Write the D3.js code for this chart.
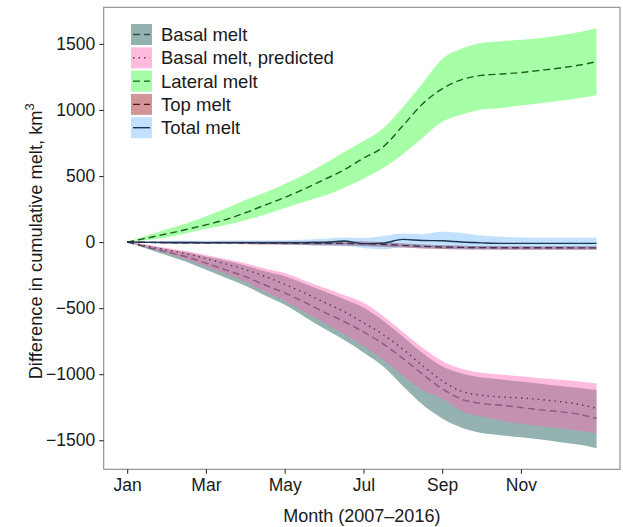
<!DOCTYPE html>
<html>
<head>
<meta charset="utf-8">
<script src="https://cdn.jsdelivr.net/npm/d3@7"></script>
<style>
  body { margin: 0; background: #fff; }
  text { font-family: "Liberation Sans", Arial, sans-serif; fill: #1a1a1a; }
</style>
</head>
<body>
<div id="chart"></div>
<script>
"use strict";

// month index (1 = Jan), half-month steps, last point at end of Dec
const months = [1, 1.5, 2, 2.5, 3, 3.5, 4, 4.5, 5, 5.5, 6, 6.5, 7, 7.5, 8, 8.5, 9, 9.5, 10, 10.5, 11, 11.5, 12, 12.5, 12.92];

const tickMonths = [1, 3, 5, 7, 9, 11];
const tickLabels = ["Jan", "Mar", "May", "Jul", "Sep", "Nov"];
const yTicks = [-1500, -1000, -500, 0, 500, 1000, 1500];

const legendLabels = ["Basal melt", "Basal melt, predicted", "Lateral melt", "Top melt", "Total melt"];

const basalMean = [0, -38, -75, -111, -160, -210, -262, -325, -385, -455, -530, -600, -680, -770, -880, -1000, -1110, -1190, -1222, -1235, -1252, -1270, -1284, -1305, -1335];
const basalHigh = [0, -24, -52, -78, -110, -142, -178, -220, -258, -315, -372, -430, -495, -595, -715, -840, -940, -995, -1025, -1040, -1055, -1072, -1090, -1105, -1120];
const basalLow = [0, -50, -100, -149, -210, -270, -330, -405, -475, -565, -655, -740, -835, -940, -1090, -1230, -1335, -1405, -1445, -1462, -1478, -1495, -1515, -1535, -1561];

const predMean = [0, -30, -60, -88, -125, -165, -208, -260, -320, -385, -455, -525, -610, -700, -810, -935, -1050, -1130, -1160, -1172, -1180, -1192, -1208, -1230, -1258];
const predHigh = [0, -20, -45, -68, -98, -128, -160, -200, -235, -290, -345, -400, -460, -560, -680, -800, -900, -960, -990, -1004, -1015, -1030, -1042, -1055, -1070];
const predLow = [0, -40, -85, -130, -185, -240, -300, -375, -445, -530, -610, -695, -785, -890, -1010, -1120, -1185, -1280, -1320, -1350, -1375, -1395, -1410, -1428, -1447];

const lateralMean = [0, 30, 62, 95, 130, 170, 222, 280, 337, 402, 472, 545, 635, 720, 880, 1045, 1160, 1230, 1262, 1272, 1283, 1300, 1318, 1340, 1366];
const lateralHigh = [0, 50, 95, 141, 195, 252, 318, 375, 440, 510, 590, 680, 765, 860, 1020, 1200, 1385, 1465, 1507, 1520, 1532, 1545, 1566, 1590, 1618];
const lateralLow = [0, 15, 35, 66, 100, 130, 165, 208, 258, 305, 350, 410, 480, 560, 665, 790, 910, 965, 1003, 1015, 1033, 1050, 1069, 1090, 1114];

const topMean = [0, -2, -4, -5, -6, -6, -7, -8, -8, -9, -9, -10, -12, -18, -25, -32, -37, -40, -42, -43, -43, -43, -43, -44, -44];
const topHigh = [0, 2, 3, 3, 3, 4, 4, 4, 5, 5, 6, 6, 5, 0, -10, -18, -24, -28, -30, -31, -31, -31, -31, -32, -32];
const topLow = [0, -6, -10, -12, -14, -15, -17, -19, -20, -22, -24, -26, -30, -36, -42, -48, -52, -55, -57, -58, -58, -58, -58, -59, -59];

const totalMean = [0, -2, -3, -3, -4, -4, -4, -5, -5, -4, -3, 8, -12, -8, 20, 12, 10, 0, -6, -10, -10, -10, -10, -10, -10];
const totalHigh = [0, 5, 8, 10, 10, 12, 12, 12, 14, 18, 25, 35, 30, 45, 65, 60, 78, 68, 50, 40, 35, 33, 33, 33, 33];
const totalLow = [0, -8, -10, -12, -12, -14, -14, -15, -18, -22, -28, -30, -45, -55, -40, -45, -50, -55, -55, -55, -55, -55, -55, -55, -55];

const width = 623;
const height = 527;
const margin = {top: 7.3, right: 3, bottom: 57.7, left: 103.7};

const series = [
  {mean: basalMean, low: basalLow, high: basalHigh, fill: "#29655f", fillOpacity: 0.5, stroke: "#2f4f4f", dash: "7,4"},
  {mean: predMean, low: predLow, high: predHigh, fill: "#ff69b4", fillOpacity: 0.45, stroke: "#5c2d52", dash: "1.4,4.2"},
  {mean: lateralMean, low: lateralLow, high: lateralHigh, fill: "#00ff00", fillOpacity: 0.35, stroke: "#1e5e1e", dash: "7,4"},
  {mean: topMean, low: topLow, high: topHigh, fill: "#a52a2a", fillOpacity: 0.5, stroke: "#5a1010", dash: "7,4"},
  {mean: totalMean, low: totalLow, high: totalHigh, fill: "#1e90ff", fillOpacity: 0.27, stroke: "#1c3550", dash: null}
];

function expand(ext, frac = 0.05) {
  let pad = (ext[1] - ext[0]) * frac;
  return [ext[0] - pad, ext[1] + pad];
}

const svg = d3.select("#chart")
  .append("svg")
  .attr("width", width)
  .attr("height", height);

const innerW = width - margin.left - margin.right;
const innerH = height - margin.top - margin.bottom;

const allVals = [].concat(...series.map(s => s.low.concat(s.high)));

const xScale = d3.scaleLinear()
  .domain(expand(d3.extent(months)))
  .range([margin.left, margin.left + innerW]);

const yScale = d3.scaleLinear()
  .domain(expand(d3.extent(allVals)))
  .range([margin.top + innerH, margin.top]);

const plot = svg.append("g");

series.forEach(s => {
  let rows = months.map((m, i) => ({x: m, y: s.mean[i], lo: s.low[i], hi: s.high[i]}));

  plot.append("path")
    .datum(rows)
    .attr("fill", s.fill)
    .attr("fill-opacity", s.fillOpacity)
    .attr("d", d3.area()
      .curve(d3.curveMonotoneX)
      .x(d => xScale(d.x))
      .y0(d => yScale(d.lo))
      .y1(d => yScale(d.hi)));

  plot.append("path")
    .datum(rows)
    .attr("fill", "none")
    .attr("stroke", s.stroke)
    .attr("stroke-width", 1.4)
    .attr("stroke-dasharray", s.dash)
    .attr("d", d3.line()
      .curve(d3.curveMonotoneX)
      .x(d => xScale(d.x))
      .y(d => yScale(d.y)));
});

// panel border
svg.append("rect")
  .attr("x", margin.left)
  .attr("y", margin.top)
  .attr("width", innerW)
  .attr("height", innerH)
  .attr("fill", "none")
  .attr("stroke", "#8a8a8a")
  .attr("stroke-width", 1.1);

// axes
const xAxis = svg.append("g")
  .attr("transform", "translate(0," + (margin.top + innerH) + ")")
  .call(d3.axisBottom(xScale)
    .tickValues(tickMonths)
    .tickFormat((d, i) => tickLabels[i])
    .tickSize(4.5)
    .tickPadding(5));

const yAxis = svg.append("g")
  .attr("transform", "translate(" + margin.left + ",0)")
  .call(d3.axisLeft(yScale)
    .tickValues(yTicks)
    .tickFormat(d3.format("d"))
    .tickSize(4.5)
    .tickPadding(4));

[xAxis, yAxis].forEach(ax => {
  ax.select(".domain").remove();
  ax.selectAll(".tick line").attr("stroke", "#333").attr("stroke-width", 1.1);
  ax.selectAll(".tick text")
    .attr("fill", "#1a1a1a")
    .style("font-size", "17.5px")
    .style("font-family", "'Liberation Sans', Arial, sans-serif");
});

// axis titles
svg.append("text")
  .attr("x", margin.left + innerW / 2)
  .attr("y", 522)
  .attr("text-anchor", "middle")
  .style("font-size", "18px")
  .text("Month (2007\u20132016)");

const yTitle = svg.append("text")
  .attr("transform", "translate(41.5," + (margin.top + innerH / 2 + 3) + ") rotate(-90)")
  .attr("text-anchor", "middle")
  .style("font-size", "18.3px");
yTitle.append("tspan").text("Difference in cumulative melt, km");
yTitle.append("tspan")
  .attr("dy", -7.5)
  .style("font-size", "13px")
  .text("3");

// legend
const legend = svg.append("g")
  .attr("transform", "translate(131,24)");

legendLabels.forEach((label, i) => {
  let s = series[i];
  let g = legend.append("g").attr("transform", "translate(0," + (i * 23.3) + ")");
  g.append("rect")
    .attr("width", 21)
    .attr("height", 21)
    .attr("fill", s.fill)
    .attr("fill-opacity", s.fillOpacity);
  g.append("line")
    .attr("x1", 2).attr("x2", 19)
    .attr("y1", 10.5).attr("y2", 10.5)
    .attr("stroke", s.stroke)
    .attr("stroke-width", 1.4)
    .attr("stroke-dasharray", s.dash);
  g.append("text")
    .attr("x", 30)
    .attr("y", 17)
    .style("font-size", "18.5px")
    .text(label);
});
</script>
</body>
</html>
